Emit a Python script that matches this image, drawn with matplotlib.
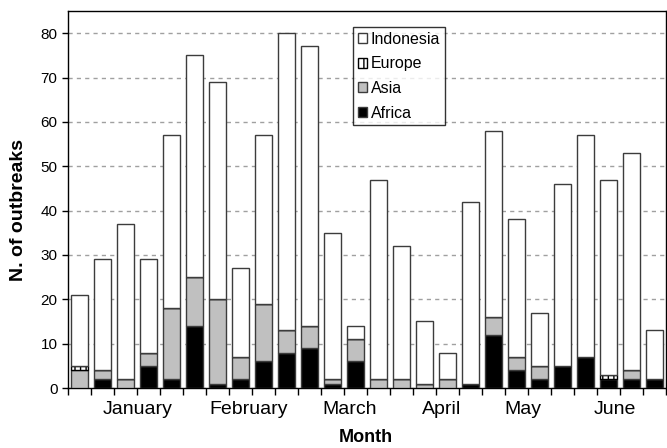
import matplotlib
matplotlib.use("Agg")
import matplotlib.pyplot as plt
import numpy as np

plt.rcParams['font.family'] = ['Liberation Sans', 'DejaVu Sans']
plt.rcParams['hatch.linewidth'] = 1.0

# Weekly outbreak counts by region
africa = [0, 2, 0, 5, 2, 14, 1, 2, 6, 8, 9, 1, 6, 0, 0, 0, 0, 1, 12, 4, 2, 5, 7, 2, 2, 2]
asia = [4, 2, 2, 3, 16, 11, 19, 5, 13, 5, 5, 1, 5, 2, 2, 1, 2, 0, 4, 3, 3, 0, 0, 0, 2, 0]
europe = [1, 0, 0, 0, 0, 0, 0, 0, 0, 0, 0, 0, 0, 0, 0, 0, 0, 0, 0, 0, 0, 0, 0, 1, 0, 0]
indonesia = [16, 25, 35, 21, 39, 50, 49, 20, 38, 67, 63, 33, 3, 45, 30, 14, 6, 41, 42, 31,
             12, 41, 50, 44, 49, 11]

months = ["January", "February", "March", "April", "May", "June"]
month_centres = [2.54, 7.37, 11.76, 15.75, 19.28, 23.28]

x = np.arange(len(africa))
a = np.array(africa)
s = np.array(asia)
e = np.array(europe)
i = np.array(indonesia)

fig = plt.figure(figsize=(6.67, 4.48), dpi=100)
ax = fig.add_axes([68 / 667, 1 - 388 / 448, 598 / 667, 377 / 448])

edge = "#3c3c3c"
w = 0.78
ax.bar(x, a, w, color="black", edgecolor=edge, linewidth=1.0, label="Africa", zorder=3)
ax.bar(x, s, w, bottom=a, color="#c0c0c0", edgecolor=edge, linewidth=1.0, label="Asia", zorder=3)
ax.bar(x, e, w, bottom=a + s, color="white", edgecolor="black", hatch="|||",
       linewidth=1.0, label="Europe", zorder=3)
ax.bar(x, i, w, bottom=a + s + e, color="white", edgecolor=edge, linewidth=1.0,
       label="Indonesia", zorder=3)

ax.set_xlim(-0.5, len(x) - 0.5)
ax.set_ylim(0, 85)
ax.set_yticks(np.arange(0, 81, 10))
ax.yaxis.grid(True, linestyle=(0, (3, 3)), color="#a0a0a0", linewidth=1.0, zorder=0)
ax.tick_params(axis='y', labelsize=11, length=4, direction='out', width=1)

ax.set_xticks(np.arange(-0.5, len(x) + 0.5, 1.0))
ax.set_xticklabels([])
ax.tick_params(axis='x', length=5, direction='out', width=1)

for name, c in zip(months, month_centres):
    ax.text(c, -4.95, name, ha="center", va="center", fontsize=14,
            transform=ax.transData)

fig.text(366 / 667, 1 - 437 / 448, "Month", ha="center", va="center",
         fontsize=13, fontweight="bold")
fig.text(19 / 667, 1 - 210 / 448, "N. of outbreaks", ha="center", va="center",
         rotation=90, fontsize=14, fontweight="bold")

for sp in ax.spines.values():
    sp.set_linewidth(1.0)
    sp.set_color("black")

handles, labels = ax.get_legend_handles_labels()
leg = ax.legend(handles[::-1], labels[::-1], loc="upper left",
                bbox_to_anchor=((353 - 68) / 598, (388 - 27) / 377),
                fontsize=11.5, frameon=True, fancybox=False, edgecolor="black",
                borderpad=0.3, labelspacing=0.6, handlelength=0.55, handleheight=0.55,
                handletextpad=0.25, borderaxespad=0)
leg.get_frame().set_linewidth(1.0)

fig.savefig("out.png", dpi=100)
